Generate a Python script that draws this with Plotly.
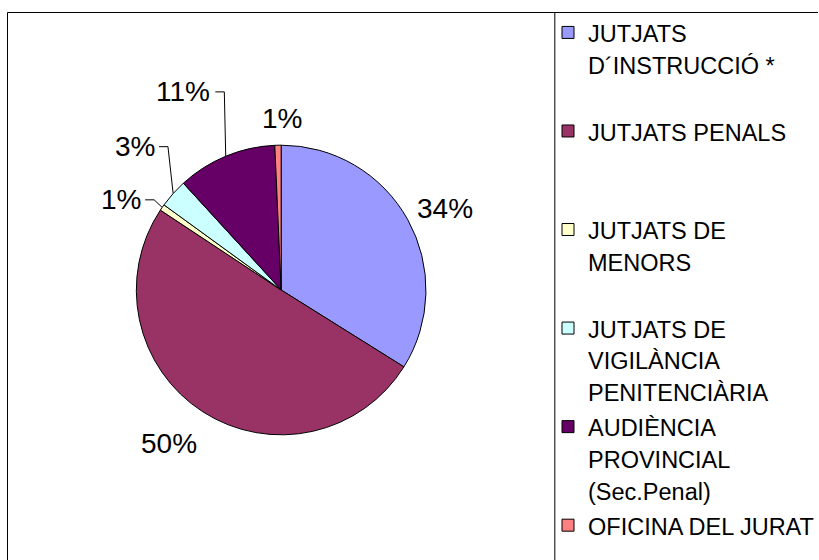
import math
import plotly.graph_objects as go

# slices, clockwise from 12 o'clock
categories = [
    "JUTJATS<br>D´INSTRUCCIÓ *",
    "JUTJATS PENALS",
    "JUTJATS DE<br>MENORS",
    "JUTJATS DE<br>VIGILÀNCIA<br>PENITENCIÀRIA",
    "AUDIÈNCIA<br>PROVINCIAL<br>(Sec.Penal)",
    "OFICINA DEL JURAT",
]
shares = [33.9, 50.4, 0.7, 3.2, 11.1, 0.7]
colors = ["#9999FF", "#993366", "#FFFFCC", "#CCFFFF", "#660066", "#FF8080"]

W, H = 819, 560
FONT = "Liberation Sans, Arial, sans-serif"

# pie placement (pixels)
cx, cy, r = 281.5, 290, 145

# where Excel put the percentage labels: distance from centre and angle nudge
label_dist = [183, 190, 184, 205, 221, 172]
label_nudge = [2.4, 3.6, -5.4, 2.6, -3.8, 1.6]
leader = [False, False, True, True, True, False]

# every legend entry gets the same height (3 lines) so spacing looks like Excel
legend_text = []
for i, c in enumerate(categories):
    lines = c.split("<br>")
    n = len(lines)
    pad = 0 if i == len(categories) - 1 else max(0, 3 - n)
    txt = "<br>".join(f"<span style='font-size:23.5px'>{ln}</span>" for ln in lines)
    legend_text.append(txt + "<br> " * pad)

fig = go.Figure()
fig.add_trace(go.Pie(
    labels=legend_text,
    values=shares,
    sort=False,
    direction="clockwise",
    rotation=0,
    marker=dict(colors=colors, line=dict(color="#000000", width=1)),
    textinfo="none",
    hoverinfo="percent",
    domain=dict(x=[(cx - r) / W, (cx + r) / W], y=[(H - cy - r) / H, (H - cy + r) / H]),
))

# invisible pixel-space axes for labels and leader lines
fig.add_trace(go.Scatter(x=[0, W], y=[0, H], mode="markers", marker=dict(opacity=0),
                         showlegend=False, hoverinfo="skip"))

total = sum(shares)
cum = 0
annotations = []
shapes = []
fs = 28
for i, v in enumerate(shares):
    mid = (cum + v / 2) / total * 360
    cum += v
    pct = f"{round(v / total * 100)}%"
    a = math.radians(mid + label_nudge[i])
    lx = cx + label_dist[i] * math.sin(a)
    ly = cy - label_dist[i] * math.cos(a)
    annotations.append(dict(x=lx, y=ly, xref="x", yref="y", text=pct, showarrow=False,
                            font=dict(family=FONT, size=fs, color="#000000"),
                            xanchor="center", yanchor="middle"))
    if leader[i]:
        half = (0.556 * (len(pct) - 1) + 0.889) * fs / 2
        m = math.radians(mid)
        ex = cx + r * math.sin(m)
        ey = cy - r * math.cos(m)
        path = f"M{ex},{ey} L{lx + half + 13},{ly} L{lx + half + 4},{ly}"
        shapes.append(dict(type="path", path=path, xref="x", yref="y",
                           line=dict(color="#000000", width=1)))

# chart frame (runs past the bottom of the picture) and legend divider
frame = "#000000"
shapes += [
    dict(type="line", xref="x", yref="y", x0=7.5, x1=W, y0=12.5, y1=12.5, line=dict(color=frame, width=1)),
    dict(type="line", xref="x", yref="y", x0=7.5, x1=7.5, y0=12.5, y1=H, line=dict(color=frame, width=1)),
    dict(type="line", xref="x", yref="y", x0=555.5, x1=555.5, y0=12.5, y1=H, line=dict(color=frame, width=1)),
]

fig.update_layout(
    width=W, height=H,
    margin=dict(l=0, r=0, t=0, b=0),
    paper_bgcolor="white", plot_bgcolor="white",
    xaxis=dict(range=[0, W], visible=False, domain=[0, 1]),
    yaxis=dict(range=[H, 0], visible=False, domain=[0, 1]),
    annotations=annotations,
    shapes=shapes,
    showlegend=True,
    legend=dict(
        x=549 / W, y=1 - 10 / H, xanchor="left", yanchor="top",
        font=dict(family=FONT, size=24.5, color="#000000"),
        valign="top", bgcolor="rgba(0,0,0,0)", borderwidth=0,
        itemclick=False, itemdoubleclick=False,
    ),
)

# the page's default body margin pushes the 819x560 figure off the window
fig.write_html("out.html", config={"displayModeBar": False},
               post_script="document.body.style.margin='0';")
